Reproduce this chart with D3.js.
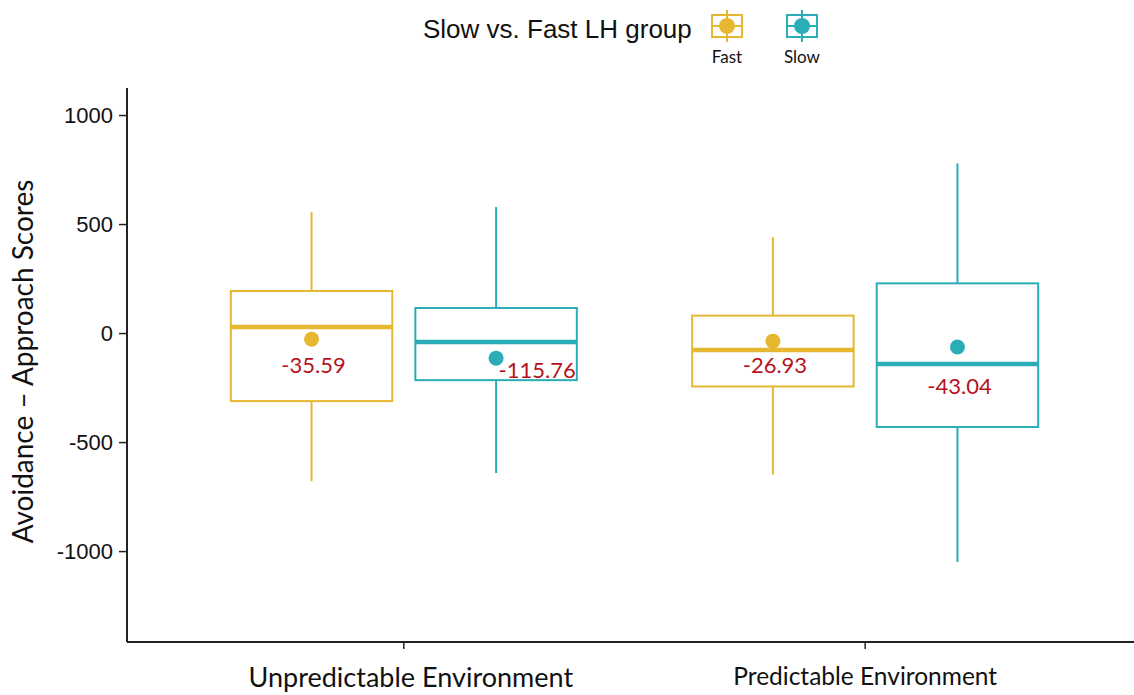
<!DOCTYPE html>
<html>
<head>
<meta charset="utf-8">
<script src="https://cdn.jsdelivr.net/npm/d3@7"></script>
<style>
  body { margin: 0; background: #fff; }
  svg { display: block; }
</style>
</head>
<body>
<div id="chart"></div>
<script>
// categories and groups
const environments = ["Unpredictable Environment", "Predictable Environment"];
const groups = ["Fast", "Slow"];
const groupColors = ["#E6B832", "#2AADB7"];

// box stats per environment, in group order (Fast, Slow)
const whiskerHigh = [[555, 578], [440, 778]];
const q3Values = [[193, 115], [80, 228]];
const medians = [[28, -41], [-78, -142]];
const q1Values = [[-312, -216], [-245, -431]];
const whiskerLow = [[-679, -642], [-649, -1050]];
const meanDots = [[-28, -115], [-37, -64]];

// mean annotations (value text, placed in data units)
const meanLabels = [["-35.59", "-115.76"], ["-26.93", "-43.04"]];
const labelY = [[-150, -173], [-150, -243]];

const yTicks = [-1000, -500, 0, 500, 1000];

const width = 1134;
const height = 695;
const margin = { left: 127, right: -8, top: 88, bottom: 53 };

const svg = d3.select("#chart")
    .append("svg")
    .attr("width", width)
    .attr("height", height);

// y scale
const y = d3.scaleLinear()
    .domain([-1417, 1124])
    .range([height - margin.bottom, margin.top]);

// x scale: discrete axis with ggplot-like expansion
const x = d3.scaleBand()
    .domain(environments)
    .range([margin.left, width - margin.right])
    .paddingInner(0)
    .paddingOuter(0.1);

// dodge inside each category
const xg = d3.scaleBand()
    .domain(groups)
    .range([-x.bandwidth() * 0.4, x.bandwidth() * 0.4])
    .paddingInner(0.125)
    .paddingOuter(0.0625);

const color = d3.scaleOrdinal().domain(groups).range(groupColors);

// axes
const yAxis = svg.append("g")
    .attr("transform", `translate(${margin.left},0)`)
    .call(d3.axisLeft(y).tickValues(yTicks).tickSize(8).tickPadding(6).tickFormat(d => String(d)));
yAxis.select(".domain").attr("stroke", "#222").attr("stroke-width", 2)
    .attr("d", `M0,${y.range()[1]}V${y.range()[0]}`);
yAxis.selectAll(".tick line").attr("stroke", "#222").attr("stroke-width", 1.5);
yAxis.selectAll(".tick text")
    .attr("fill", "#111")
    .style("font-family", "'Liberation Sans', Arial, sans-serif")
    .style("font-size", "22px");

const xAxis = svg.append("g")
    .attr("transform", `translate(0,${height - margin.bottom})`)
    .call(d3.axisBottom(x).tickSize(7).tickPadding(19));
xAxis.select(".domain").attr("stroke", "#222").attr("stroke-width", 2)
    .attr("d", `M${margin.left},0H${width}`);
xAxis.selectAll(".tick line").attr("stroke", "#222").attr("stroke-width", 1.5);
xAxis.selectAll(".tick text")
    .attr("fill", "#111")
    .attr("dx", (d, i) => i === 0 ? 7 : 0)
    .style("font-family", "Lato, 'Open Sans', sans-serif")
    .style("font-size", (d, i) => i === 0 ? "27px" : "24.5px");

// y axis title
svg.append("text")
    .attr("transform", `translate(33,${(173 + 550) / 2}) rotate(-90)`)
    .attr("text-anchor", "middle")
    .style("font-family", "Lato, 'Open Sans', sans-serif")
    .style("font-size", "28px")
    .attr("fill", "#111")
    .text("Avoidance \u2013 Approach Scores");

// flatten boxes
const boxes = [];
environments.forEach((env, i) => {
    groups.forEach((g, j) => {
        boxes.push({
            env: env, group: g,
            hi: whiskerHigh[i][j], q3: q3Values[i][j], med: medians[i][j],
            q1: q1Values[i][j], lo: whiskerLow[i][j], mean: meanDots[i][j],
            label: meanLabels[i][j], labelY: labelY[i][j]
        });
    });
});

const boxG = svg.selectAll("g.box")
    .data(boxes)
    .enter().append("g")
    .attr("class", "box")
    .attr("transform", d => `translate(${x(d.env) + x.bandwidth() / 2},0)`);

const bw = xg.bandwidth();
const cx = d => xg(d.group) + bw / 2;

// whiskers
boxG.append("line")
    .attr("x1", cx).attr("x2", cx)
    .attr("y1", d => y(d.hi)).attr("y2", d => y(d.q3))
    .attr("stroke", d => color(d.group)).attr("stroke-width", 2);
boxG.append("line")
    .attr("x1", cx).attr("x2", cx)
    .attr("y1", d => y(d.q1)).attr("y2", d => y(d.lo))
    .attr("stroke", d => color(d.group)).attr("stroke-width", 2);

// box
boxG.append("rect")
    .attr("x", d => xg(d.group))
    .attr("width", bw)
    .attr("y", d => y(d.q3))
    .attr("height", d => y(d.q1) - y(d.q3))
    .attr("fill", "#fff")
    .attr("stroke", d => color(d.group))
    .attr("stroke-width", 2);

// median
boxG.append("line")
    .attr("x1", d => xg(d.group)).attr("x2", d => xg(d.group) + bw)
    .attr("y1", d => y(d.med)).attr("y2", d => y(d.med))
    .attr("stroke", d => color(d.group)).attr("stroke-width", 4.5);

// mean dot
boxG.append("circle")
    .attr("cx", cx)
    .attr("cy", d => y(d.mean))
    .attr("r", 7.5)
    .attr("fill", d => color(d.group));

// mean label
boxG.append("text")
    .attr("x", d => d.group === "Slow" && d.env === environments[0] ? cx(d) + 41 : cx(d) + 2)
    .attr("y", d => y(d.labelY))
    .attr("dy", "0.35em")
    .attr("text-anchor", "middle")
    .style("font-family", "Lato, 'Open Sans', sans-serif")
    .style("font-size", "22px")
    .attr("fill", "#B5121B")
    .text(d => d.label);

// legend
const legend = svg.append("g");
legend.append("text")
    .attr("x", 423).attr("y", 38)
    .style("font-family", "'Liberation Sans', Arial, sans-serif")
    .style("font-size", "26px")
    .attr("fill", "#111")
    .text("Slow vs. Fast LH group");

const keyX = [727, 802];
groups.forEach((g, i) => {
    const k = legend.append("g").attr("transform", `translate(${keyX[i]},26)`);
    k.append("rect").attr("x", -15).attr("y", -11).attr("width", 30).attr("height", 22)
        .attr("fill", "#fff").attr("stroke", color(g)).attr("stroke-width", 2);
    k.append("line").attr("x1", -15).attr("x2", 15).attr("y1", 0).attr("y2", 0)
        .attr("stroke", color(g)).attr("stroke-width", 2);
    k.append("line").attr("x1", 0).attr("x2", 0).attr("y1", -16).attr("y2", 16)
        .attr("stroke", color(g)).attr("stroke-width", 2);
    k.append("circle").attr("r", 8).attr("fill", color(g));
    legend.append("text")
        .attr("x", keyX[i]).attr("y", 63)
        .attr("text-anchor", "middle")
        .style("font-family", "Lato, 'Open Sans', sans-serif")
        .style("font-size", "17px")
        .attr("fill", "#111")
        .text(g);
});
</script>
</body>
</html>
